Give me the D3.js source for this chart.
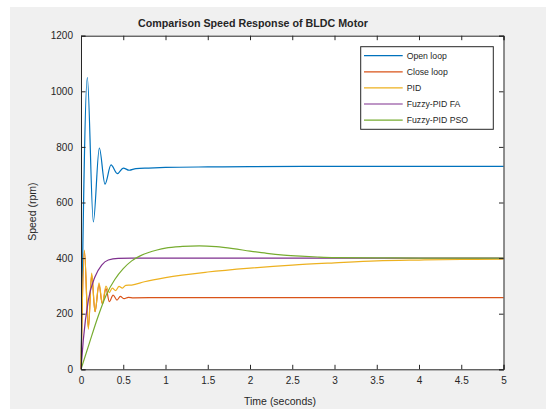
<!DOCTYPE html>
<html>
<head>
<meta charset="utf-8">
<script src="https://cdn.jsdelivr.net/npm/d3@7"></script>
<style>
  body { margin: 0; background: #fff; }
  text { font-family: "Liberation Sans", Arial, sans-serif; fill: #262626; }
</style>
</head>
<body>
<div id="chart"></div>
<script>
// values
const openT = [0, 0.075, 0.146, 0.217, 0.284, 0.355, 0.43, 0.5, 0.57, 0.65, 0.8, 1, 1.5, 2, 3, 4, 5];
const openV = [0, 1049, 530, 796, 666, 735, 704, 724, 716, 722, 724, 726, 728, 729, 730, 730, 730];

const closeT = [0, 0.04, 0.087, 0.126, 0.166, 0.213, 0.252, 0.296, 0.335, 0.38, 0.426, 0.465, 0.51, 0.56, 0.62, 1, 2, 3, 4, 5];
const closeV = [0, 425, 150, 340, 207, 305, 235, 290, 243, 267, 249, 262, 254, 259, 257, 258, 258, 258, 258, 258];

const pidT = [0, 0.04, 0.087, 0.126, 0.166, 0.213, 0.252, 0.296, 0.335, 0.37, 0.41, 0.45, 0.49, 0.53, 0.6, 0.75, 1, 1.5, 2, 2.5, 3, 3.5, 4, 4.5, 5];
const pidV = [0, 429, 144, 346, 207, 311, 237, 299, 276, 292, 283, 298, 292, 302, 303, 315, 330, 350, 364, 375, 383, 390, 393, 395, 396];

const faT = [0, 0.027, 0.087, 0.166, 0.245, 0.323, 0.44, 0.6, 1, 2, 3, 4, 5];
const faV = [0, 105, 249, 333, 375, 393, 399, 400, 400, 400, 400, 400, 400];

const psoT = [0, 0.1, 0.2, 0.3, 0.4, 0.5, 0.6, 0.7, 0.8, 0.9, 1.0, 1.2, 1.4, 1.6, 1.8, 2.0, 2.2, 2.4, 2.6, 2.8, 3.0, 3.5, 4, 5];
const psoV = [0, 95, 188, 268, 323, 362, 390, 408, 420, 429, 436, 442, 444, 441, 434, 425, 417, 411, 407, 404, 402, 401, 400, 400];

const seriesNames = ["Open loop", "Close loop", "PID", "Fuzzy-PID FA", "Fuzzy-PID PSO"];
const seriesColors = ["#0072BD", "#D95319", "#EDB120", "#7E2F8E", "#77AC30"];
const xTicks = [0, 0.5, 1, 1.5, 2, 2.5, 3, 3.5, 4, 4.5, 5];
const yTicks = [0, 200, 400, 600, 800, 1000, 1200];

const series = [
  [openT, openV], [closeT, closeV], [pidT, pidV], [faT, faV], [psoT, psoV]
].map(([t, v], i) => ({
  name: seriesNames[i],
  color: seriesColors[i],
  values: t.map((d, j) => ({ t: d, v: v[j] }))
}));

const width = 546, height = 409;
const plot = { left: 81, right: 503.5, top: 35.7, bottom: 369.3 };

const svg = d3.select("#chart").append("svg")
  .attr("width", width)
  .attr("height", height);

// figure background
svg.append("rect")
  .attr("x", 10).attr("y", 7)
  .attr("width", width - 10).attr("height", height - 7)
  .attr("fill", "#f0f0f0");

svg.append("rect")
  .attr("x", plot.left).attr("y", plot.top)
  .attr("width", plot.right - plot.left).attr("height", plot.bottom - plot.top)
  .attr("fill", "#fff");

var x = d3.scaleLinear().domain([0, 5]).range([plot.left, plot.right]);
var y = d3.scaleLinear().domain([0, 1200]).range([plot.bottom, plot.top]);

var line = d3.line()
  .x(d => x(d.t))
  .y(d => y(d.v))
  .curve(d3.curveMonotoneX);

svg.append("g")
  .selectAll("path")
  .data(series)
  .join("path")
  .attr("d", d => line(d.values))
  .attr("fill", "none")
  .attr("stroke", d => d.color)
  .attr("stroke-width", 1.2);

// axes (ticks point inward, box on)
const tickLen = 4.5;
var xAxisBottom = d3.axisBottom(x).tickValues(xTicks).tickSize(-tickLen).tickPadding(8).tickFormat(d3.format("~g"));
var xAxisTop = d3.axisTop(x).tickValues(xTicks).tickSize(-tickLen).tickFormat("");
var yAxisLeft = d3.axisLeft(y).tickValues(yTicks).tickSize(-tickLen).tickPadding(8).tickFormat(d3.format("d"));
var yAxisRight = d3.axisRight(y).tickValues(yTicks).tickSize(-tickLen).tickFormat("");

function styleAxis(g) {
  g.selectAll("path").attr("stroke", "#262626").attr("stroke-width", 1);
  g.selectAll("line").attr("stroke", "#262626").attr("stroke-width", 1);
  g.selectAll("text").attr("fill", "#262626").style("font-size", "10px")
    .style("font-family", "'Liberation Sans', Arial, sans-serif");
}

svg.append("g").attr("transform", "translate(0," + plot.bottom + ")").call(xAxisBottom).call(styleAxis);
svg.append("g").attr("transform", "translate(0," + plot.top + ")").call(xAxisTop).call(styleAxis);
svg.append("g").attr("transform", "translate(" + plot.left + ",0)").call(yAxisLeft).call(styleAxis);
svg.append("g").attr("transform", "translate(" + plot.right + ",0)").call(yAxisRight).call(styleAxis);

// title and axis labels
svg.append("text")
  .attr("x", 253).attr("y", 27)
  .attr("text-anchor", "middle")
  .style("font-size", "10.7px")
  .style("font-weight", "bold")
  .text("Comparison Speed Response of BLDC Motor");

svg.append("text")
  .attr("x", 280).attr("y", 404.5)
  .attr("text-anchor", "middle")
  .style("font-size", "10.5px")
  .text("Time (seconds)");

svg.append("text")
  .attr("transform", "translate(36,211.7) rotate(-90)")
  .attr("text-anchor", "middle")
  .style("font-size", "10.5px")
  .text("Speed (rpm)");

// legend
const legend = svg.append("g").attr("transform", "translate(360.7,46.7)");
legend.append("rect")
  .attr("width", 132.6).attr("height", 82.6)
  .attr("fill", "#fff")
  .attr("stroke", "#262626")
  .attr("stroke-width", 1);

const rows = legend.selectAll("g.row")
  .data(series)
  .join("g")
  .attr("class", "row")
  .attr("transform", (d, i) => "translate(0," + (9 + i * 16.1) + ")");

rows.append("line")
  .attr("x1", 3.3).attr("x2", 42)
  .attr("stroke", d => d.color)
  .attr("stroke-width", 1.2);

rows.append("text")
  .attr("x", 46)
  .attr("dy", "0.35em")
  .style("font-size", "8.7px")
  .text(d => d.name);
</script>
</body>
</html>
